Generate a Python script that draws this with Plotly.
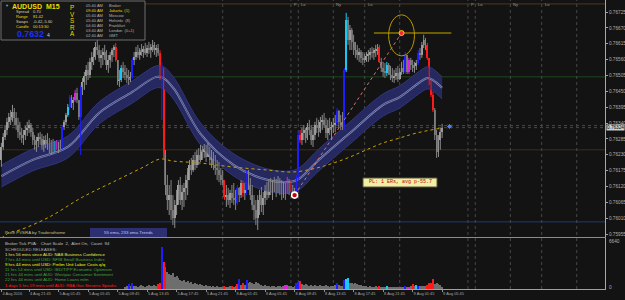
import plotly.graph_objects as go

# ---------------- data ----------------
first_open = 0.76212
bar_high = [
0.76271,0.76305,0.76333,0.76358,0.76375,0.76385,0.76403,0.76392,0.76378,0.76358,
0.76344,0.76323,0.76316,0.76330,0.76344,0.76351,0.76340,0.76323,0.76298,0.76292,
0.76305,0.76309,0.76302,0.76295,0.76298,0.76305,0.76288,0.76281,0.76285,0.76278,
0.76281,0.76274,0.76281,0.76333,0.76351,0.76375,0.76406,0.76437,0.76437,0.76430,
0.76455,0.76462,0.76420,0.76472,0.76496,0.76517,0.76541,0.76552,0.76566,0.76586,
0.76600,0.76621,0.76635,0.76611,0.76593,0.76600,0.76611,0.76593,0.76576,0.76586,
0.76600,0.76611,0.76618,0.76552,0.76524,0.76541,0.76552,0.76541,0.76531,0.76524,
0.76517,0.76566,0.76586,0.76604,0.76611,0.76600,0.76614,0.76607,0.76618,0.76611,
0.76621,0.76614,0.76628,0.76621,0.76611,0.76614,0.76593,0.76552,0.76531,0.76247,
0.76160,0.76125,0.76142,0.76090,0.76073,0.76108,0.76142,0.76153,0.76125,0.76132,
0.76160,0.76184,0.76212,0.76219,0.76229,0.76240,0.76247,0.76253,0.76264,0.76260,
0.76267,0.76264,0.76271,0.76257,0.76247,0.76240,0.76229,0.76212,0.76205,0.76184,
0.76177,0.76142,0.76125,0.76115,0.76108,0.76125,0.76132,0.76108,0.76125,0.76118,
0.76142,0.76139,0.76132,0.76177,0.76177,0.76149,0.76125,0.76090,0.76073,0.76090,
0.76108,0.76118,0.76101,0.76125,0.76135,0.76142,0.76149,0.76142,0.76153,0.76146,
0.76156,0.76149,0.76142,0.76135,0.76132,0.76153,0.76142,0.76139,0.76125,0.76115,
0.76160,0.76309,0.76316,0.76323,0.76333,0.76323,0.76340,0.76351,0.76333,0.76326,
0.76344,0.76358,0.76351,0.76361,0.76368,0.76375,0.76358,0.76351,0.76358,0.76344,
0.76358,0.76368,0.76392,0.76385,0.76368,0.76378,0.76531,0.76722,0.76708,0.76680,
0.76670,0.76646,0.76621,0.76611,0.76600,0.76593,0.76586,0.76580,0.76586,0.76593,
0.76600,0.76604,0.76600,0.76611,0.76614,0.76611,0.76566,0.76552,0.76548,0.76552,
0.76548,0.76538,0.76531,0.76524,0.76531,0.76538,0.76531,0.76552,0.76559,0.76586,
0.76566,0.76566,0.76566,0.76559,0.76552,0.76559,0.76593,0.76600,0.76621,0.76646,
0.76635,0.76618,0.76566,0.76489,0.76448,0.76392,0.76316,0.76298,0.76323,0.76337]
bar_low = [
0.76188,0.76247,0.76281,0.76298,0.76323,0.76333,0.76344,0.76333,0.76316,0.76288,
0.76281,0.76271,0.76264,0.76281,0.76295,0.76305,0.76292,0.76264,0.76247,0.76240,
0.76257,0.76264,0.76247,0.76240,0.76253,0.76247,0.76236,0.76229,0.76233,0.76240,
0.76247,0.76236,0.76247,0.76250,0.76316,0.76333,0.76361,0.76385,0.76392,0.76385,
0.76413,0.76409,0.76351,0.76229,0.76437,0.76455,0.76472,0.76489,0.76496,0.76524,
0.76541,0.76559,0.76576,0.76552,0.76531,0.76541,0.76559,0.76524,0.76514,0.76531,
0.76552,0.76569,0.76552,0.76472,0.76465,0.76482,0.76496,0.76489,0.76479,0.76472,
0.76482,0.76493,0.76541,0.76559,0.76566,0.76559,0.76573,0.76566,0.76576,0.76569,
0.76580,0.76566,0.76586,0.76576,0.76569,0.76573,0.76489,0.76351,0.76212,0.76090,
0.76038,0.76021,0.76004,0.75986,0.75976,0.76021,0.76056,0.76056,0.76038,0.76049,
0.76073,0.76090,0.76142,0.76160,0.76170,0.76177,0.76184,0.76194,0.76205,0.76212,
0.76219,0.76205,0.76222,0.76194,0.76184,0.76177,0.76160,0.76142,0.76135,0.76125,
0.76125,0.76073,0.76049,0.76056,0.76045,0.76063,0.76056,0.76038,0.76056,0.76066,
0.76080,0.76083,0.76073,0.76090,0.76108,0.76073,0.76038,0.76004,0.75986,0.75969,
0.76021,0.76031,0.76021,0.76056,0.76073,0.76080,0.76090,0.76073,0.76101,0.76083,
0.76097,0.76090,0.76073,0.76080,0.76073,0.76094,0.76090,0.76101,0.76083,0.76080,
0.76087,0.76142,0.76271,0.76264,0.76281,0.76271,0.76281,0.76298,0.76264,0.76257,
0.76281,0.76305,0.76292,0.76305,0.76316,0.76323,0.76288,0.76281,0.76298,0.76281,
0.76305,0.76309,0.76333,0.76323,0.76316,0.76316,0.76316,0.76517,0.76611,0.76593,
0.76593,0.76576,0.76566,0.76559,0.76552,0.76548,0.76541,0.76548,0.76552,0.76552,
0.76559,0.76566,0.76559,0.76569,0.76576,0.76548,0.76517,0.76500,0.76496,0.76503,
0.76507,0.76489,0.76482,0.76479,0.76489,0.76482,0.76489,0.76507,0.76510,0.76510,
0.76510,0.76510,0.76524,0.76517,0.76514,0.76524,0.76541,0.76559,0.76566,0.76600,
0.76593,0.76559,0.76472,0.76430,0.76378,0.76281,0.76219,0.76222,0.76247,0.76288]
bar_close = [
0.76257,0.76292,0.76316,0.76344,0.76361,0.76351,0.76378,0.76358,0.76333,0.76309,
0.76298,0.76288,0.76298,0.76316,0.76323,0.76333,0.76309,0.76281,0.76264,0.76278,
0.76292,0.76285,0.76260,0.76281,0.76271,0.76257,0.76250,0.76264,0.76247,0.76271,
0.76253,0.76260,0.76257,0.76326,0.76344,0.76368,0.76396,0.76430,0.76409,0.76420,
0.76444,0.76420,0.76361,0.76465,0.76482,0.76503,0.76524,0.76507,0.76552,0.76569,
0.76583,0.76604,0.76593,0.76566,0.76576,0.76586,0.76569,0.76541,0.76559,0.76576,
0.76593,0.76604,0.76559,0.76489,0.76489,0.76531,0.76517,0.76507,0.76496,0.76489,
0.76500,0.76559,0.76569,0.76586,0.76576,0.76593,0.76586,0.76597,0.76583,0.76600,
0.76593,0.76604,0.76611,0.76593,0.76600,0.76583,0.76496,0.76524,0.76236,0.76125,
0.76073,0.76090,0.76038,0.76011,0.76056,0.76090,0.76125,0.76073,0.76101,0.76115,
0.76142,0.76170,0.76194,0.76177,0.76212,0.76194,0.76229,0.76212,0.76247,0.76240,
0.76253,0.76222,0.76247,0.76212,0.76229,0.76194,0.76184,0.76177,0.76160,0.76142,
0.76132,0.76083,0.76090,0.76073,0.76097,0.76080,0.76073,0.76063,0.76115,0.76090,
0.76132,0.76097,0.76108,0.76170,0.76125,0.76090,0.76056,0.76038,0.76011,0.76073,
0.76090,0.76056,0.76080,0.76108,0.76090,0.76125,0.76108,0.76132,0.76115,0.76108,
0.76135,0.76118,0.76101,0.76125,0.76101,0.76146,0.76125,0.76108,0.76097,0.76101,
0.76149,0.76298,0.76281,0.76305,0.76316,0.76288,0.76326,0.76316,0.76281,0.76298,
0.76333,0.76323,0.76309,0.76344,0.76351,0.76333,0.76305,0.76323,0.76316,0.76326,
0.76333,0.76340,0.76382,0.76344,0.76333,0.76326,0.76524,0.76698,0.76628,0.76663,
0.76621,0.76600,0.76593,0.76576,0.76586,0.76566,0.76559,0.76566,0.76573,0.76576,
0.76586,0.76583,0.76593,0.76597,0.76604,0.76552,0.76531,0.76517,0.76514,0.76541,
0.76524,0.76507,0.76496,0.76503,0.76514,0.76493,0.76517,0.76531,0.76517,0.76576,
0.76517,0.76559,0.76541,0.76531,0.76538,0.76548,0.76583,0.76576,0.76611,0.76628,
0.76611,0.76566,0.76479,0.76437,0.76385,0.76298,0.76240,0.76281,0.76309,0.76324]

candle_blue = [33, 37, 43, 71, 87, 128, 133, 160, 161, 182, 186, 219, 226]
candle_red = [62, 86, 88, 121, 131, 157, 162, 205, 231, 232, 233, 234]
candle_cyan = [29, 36, 65, 187, 209]
candle_magenta = [30, 40, 155, 221]

vol_start = 67
volume = [
262,391,655,388,784,402,377,258,395,521,386,270,399,530,381,404,518,389,
648,779,5470,3515,2862,2213,1948,1824,2081,1559,1693,1428,1172,1041,1168,
912,1037,781,915,652,778,649,524,655,521,392,527,389,401,262,385,268,397,259,271,
266,393,258,263,398,387,271,394,653,1302,519,782,527,1167,778,913,784,651,908,776,
648,523,392,527,388,396,264,391,398,259,386,394,268,393,522,528,387,392,261,389,
781,914,1043,654,522,649,526,391,519,388,524,393,386,527,392,398,521,387,263,391,
389,524,785,521,392,397,1171,1298,1432,779,783,651,778,652,523,519,392,388,394,261,
392,263,258,394,267,396,262,259,266,397,261,264,258,263,138,262,267,259,263,395,
261,268,393,651,391,524,397,389,394,391,396,522,779,784,1301,648,781,652,523,264]
vol_blue = [69, 71, 87, 129, 133, 160, 161, 182, 186, 219, 226]
vol_red = [85, 86, 88, 89, 121, 125, 128, 131, 162, 205, 223, 231, 232, 233, 234]
vol_cyan = [187, 188, 209, 225]
vol_magenta = [154, 155, 221]
vol_max_label = 6640

ema55_idx = [0, 17, 36, 53, 71, 84, 88, 94, 108, 126, 144, 157, 162, 171, 189, 207, 216, 227, 231, 234, 239]
ema55_mid = [0.76156, 0.76212, 0.76257, 0.76375, 0.76448, 0.76500, 0.76496, 0.76455, 0.76302, 0.76194, 0.76143,
             0.76136, 0.76149, 0.76205, 0.76305, 0.76403, 0.76430, 0.76482, 0.76496, 0.76489, 0.76462]
ema55_upper = [0.76194, 0.76250, 0.76295, 0.76413, 0.76486, 0.76538, 0.76535, 0.76493, 0.76340, 0.76233, 0.76181,
               0.76174, 0.76187, 0.76243, 0.76344, 0.76441, 0.76469, 0.76521, 0.76535, 0.76528, 0.76500]
ema55_lower = [0.76118, 0.76174, 0.76219, 0.76337, 0.76409, 0.76462, 0.76458, 0.76417, 0.76264, 0.76156, 0.76104,
               0.76097, 0.76111, 0.76167, 0.76267, 0.76364, 0.76392, 0.76444, 0.76458, 0.76451, 0.76423]

ema233_idx = [0, 4, 10, 26, 44, 63, 77, 86, 93, 108, 126, 144, 158, 171, 180, 189, 198, 207, 216, 225, 239]
ema233_val = [0.75940, 0.75959, 0.75969, 0.76014, 0.76083, 0.76143, 0.76187, 0.76215, 0.76208, 0.76201, 0.76187,
              0.76177, 0.76170, 0.76184, 0.76201, 0.76222, 0.76247, 0.76271, 0.76288, 0.76305, 0.76323]

tick_idx = [0, 15, 31, 47, 63, 79, 95, 111, 127, 143, 159, 175, 191, 207, 223, 239]
tick_text = ["4 Aug 2016", "4 Aug 21:45", "5 Aug 01:45", "5 Aug 05:45", "5 Aug 09:45", "5 Aug 13:45",
             "5 Aug 17:45", "5 Aug 21:45", "8 Aug 01:45", "8 Aug 05:45", "8 Aug 09:45", "8 Aug 13:45",
             "8 Aug 17:45", "8 Aug 21:45", "9 Aug 01:45", "9 Aug 05:45"]
price_ticks = [0.76725, 0.76670, 0.76615, 0.76560, 0.76505, 0.76450, 0.76395, 0.76340,
               0.76285, 0.76230, 0.76175, 0.76120, 0.76065, 0.76010, 0.75955]

bid_price = 0.76324
ask_price = 0.76331
level_prices = [0.76753, 0.76500, 0.76247, 0.75997]
level_colors = ['#4a3a1c', '#1d4a1d', '#3e2e1a', '#1f3a72']

day_sep_idx = [120, 216, 312]
session_idx = [157, 161, 180, 197, 253, 257, 276, 293]
session_lbl = ["P", "Lo", "Ny", "Lo", "P", "Lo", "Ny", "Lo"]

entry_idx, entry_price = 159, 0.76090
target_idx, target_price = 217, 0.76652
target_line_idx = [202, 244]
ellipse_center = (217, 0.76644)
ellipse_half = (7.0, 0.00071)
next_bar_idx, next_bar_price = 243, 0.76328

# ---------------- figure ----------------
W, H = 625, 300
def px(x): return x / W
def py(y): return 1 - y / H

BG = '#131313'
x_lo, x_hi = -0.76, 327.33
p_hi, p_lo = 0.7676662, 0.7594459

fig = go.Figure()

# EMA 55 band
fig.add_trace(go.Scatter(x=ema55_idx, y=ema55_upper, mode='lines',
                         line=dict(color='#30357e', width=1, shape='spline'), hoverinfo='skip'))
fig.add_trace(go.Scatter(x=ema55_idx, y=ema55_lower, mode='lines', fill='tonexty', fillcolor='#252960',
                         line=dict(color='#30357e', width=1, shape='spline'), hoverinfo='skip'))
fig.add_trace(go.Scatter(x=ema55_idx, y=ema55_mid, mode='lines',
                         line=dict(color='#8a8fbf', width=2.0, shape='spline'), hoverinfo='skip'))
fig.add_trace(go.Scatter(x=ema55_idx, y=ema55_mid, mode='lines',
                         line=dict(color='#252960', width=0.7, shape='spline'), hoverinfo='skip'))
# EMA 233
fig.add_trace(go.Scatter(x=ema233_idx, y=ema233_val, mode='lines',
                         line=dict(color='#c8a000', width=1, dash='dot', shape='spline'), hoverinfo='skip'))

# candles
n = len(bar_close)
bar_open = [first_open] + bar_close[:-1]
special = {}
for i in candle_blue: special[i] = ('#1e1eff', '#1e1eff')
for i in candle_red: special[i] = ('#ff1a1a', '#ff1a1a')
for i in candle_cyan: special[i] = ('#1ac8f0', '#1ac8f0')
for i in candle_magenta: special[i] = ('#e020e0', '#e020e0')
UP = ('#a6a6a6', '#8e8e8e')
DN = ('#6a6a6a', '#848484')
groups = {}
for i in range(n):
    if i in special:
        key = special[i]
    elif bar_close[i] >= bar_open[i]:
        key = UP
    else:
        key = DN
    groups.setdefault(key, []).append(i)

order = sorted(groups.keys(), key=lambda k: 0 if k in (UP, DN) else 1)
for key in order:
    idx = groups[key]
    body_col, wick_col = key
    wx, wy = [], []
    for i in idx:
        lo = min(bar_low[i], bar_open[i], bar_close[i])
        hi = max(bar_high[i], bar_open[i], bar_close[i])
        wx += [i, i, None]
        wy += [lo, hi, None]
    fig.add_trace(go.Scatter(x=wx, y=wy, mode='lines', line=dict(color=wick_col, width=1), hoverinfo='skip'))
    fig.add_trace(go.Bar(x=idx,
                         y=[max(abs(bar_close[i] - bar_open[i]), 0.000015) for i in idx],
                         base=[min(bar_close[i], bar_open[i]) for i in idx],
                         width=0.6, marker=dict(color=body_col, line=dict(width=0)), hoverinfo='skip'))

# volume
vol_idx = list(range(vol_start, vol_start + len(volume)))
vcol = {}
for i in vol_blue: vcol[i] = '#1e1eff'
for i in vol_red: vcol[i] = '#ff1a1a'
for i in vol_cyan: vcol[i] = '#1ac8f0'
for i in vol_magenta: vcol[i] = '#e020e0'
vgroups = {}
for i, v in zip(vol_idx, volume):
    c = vcol.get(i, '#6e6e6e')
    vgroups.setdefault(c, ([], []))
    vgroups[c][0].append(i)
    vgroups[c][1].append(v)
for c, (xs, ys) in vgroups.items():
    fig.add_trace(go.Bar(x=xs, y=ys, width=0.62, marker=dict(color=c, line=dict(width=0)),
                         xaxis='x2', yaxis='y2', hoverinfo='skip'))

# trade markers
fig.add_trace(go.Scatter(x=[entry_idx, target_idx], y=[entry_price, target_price], mode='lines',
                         line=dict(color='#d87070', width=1, dash='dot'), hoverinfo='skip'))
fig.add_trace(go.Scatter(x=target_line_idx, y=[target_price, target_price], mode='lines',
                         line=dict(color='#8c7600', width=1.5), hoverinfo='skip'))
fig.add_trace(go.Scatter(x=[entry_idx], y=[entry_price], mode='markers',
                         marker=dict(size=6, color='#d00000', line=dict(color='#ffffff', width=1.6)), hoverinfo='skip'))
fig.add_trace(go.Scatter(x=[target_idx], y=[target_price], mode='markers',
                         marker=dict(size=5, color='#ff2040', line=dict(color='#f0d000', width=1)), hoverinfo='skip'))
fig.add_trace(go.Scatter(x=[next_bar_idx], y=[next_bar_price], mode='markers',
                         marker=dict(size=4, symbol='asterisk-open', color='#4f7fff', line=dict(color='#4f7fff', width=1)),
                         hoverinfo='skip'))

shapes = []
for p, c in zip(level_prices, level_colors):
    shapes.append(dict(type='line', xref='paper', yref='y', x0=0, x1=px(605), y0=p, y1=p,
                       line=dict(color=c, width=1), layer='below'))
for p in (bid_price, ask_price):
    shapes.append(dict(type='line', xref='paper', yref='y', x0=0, x1=px(605), y0=p, y1=p,
                       line=dict(color='#555555', width=0.8, dash='dot'), layer='below'))
for i in day_sep_idx + session_idx:
    shapes.append(dict(type='line', xref='x', yref='paper', x0=i, x1=i, y0=py(289), y1=1,
                       line=dict(color='#484848', width=1, dash='dot'), layer='below'))
cx, cy = ellipse_center
hx, hy = ellipse_half
shapes.append(dict(type='circle', xref='x', yref='y', x0=cx - hx, x1=cx + hx, y0=cy - hy, y1=cy + hy,
                   line=dict(color='#b89a00', width=1)))
shapes.append(dict(type='rect', xref='paper', yref='paper', x0=px(1), x1=px(145), y0=py(40), y1=py(1),
                   fillcolor='#161616', line=dict(color='#6e6e6e', width=1), layer='above'))
shapes.append(dict(type='rect', xref='paper', yref='paper', x0=px(90), x1=px(167), y0=py(237), y1=py(228),
                   fillcolor='#2c3072', line=dict(width=0), layer='above'))
shapes.append(dict(type='rect', xref='paper', yref='paper', x0=px(363), x1=px(437), y0=py(187), y1=py(178),
                   fillcolor='#f2eea6', line=dict(color='#55553a', width=1), layer='above'))

F = 'Liberation Sans'
ann = []
def text(x, y, s, color, size, anchor='left', bold=False, family=F, **kw):
    if bold:
        s = '<b>' + s + '</b>'
    d = dict(x=px(x), y=py(y), xref='paper', yref='paper', text=s.replace('  ', '\u00a0 '),
             showarrow=False, xanchor=anchor, yanchor='middle',
             font=dict(color=color, size=size, family=family))
    d.update(kw)
    ann.append(d)

text(3, 5, '▼', '#9a9a9a', 4)
text(10, 7, 'AUDUSD', '#f0dc00', 7, bold=True)
text(44, 7, 'M15', '#f0dc00', 7, bold=True)
rows = [('Spread', '0.70', '#d6d2b0'), ('Range', '81.42', '#f0dc00'),
        ('Swaps', '-0.42,-5.60', '#d6d2b0'), ('Candle', '00:13:30', '#f0dc00')]
for k, (a, b, c) in enumerate(rows):
    text(14, 11.5 + 5 * k, a, c, 4)
    text(31, 11.5 + 5 * k, b, c, 4)
text(15, 34, '0.7632', '#1a30ff', 8.8, bold=True)
text(45, 35, '4', '#d0d0d0', 5)
for k, ch in enumerate('PVSRA'):
    text(72, 7.5 + 6.6 * k, ch, '#f0d800', 6.3, anchor='center')
times = [('05:40 AM', 'Broker', '#b4b4b4'), ('09:40 AM', 'Jakarta  (1)', '#f0dc00'),
         ('05:40 AM', 'Moscow', '#b4b4b4'), ('05:40 AM', 'Helsinki  (8)', '#b4b4b4'),
         ('04:40 AM', 'Frankfurt', '#b4b4b4'), ('03:40 AM', 'London  (0+1)', '#b4b4b4'),
         ('02:40 AM', 'GMT', '#b4b4b4')]
for k, (t, c_name, col) in enumerate(times):
    text(84, 5 + 5.1 * k, t, col, 4)
    text(107, 5 + 5.1 * k, c_name, col, 4)

text(3, 232.5, 'Price PVSRA by Traderathome', '#c8c080', 4.4)
text(128.5, 232.5, '55 ema, 233 ema Trends', '#c4c4f4', 4.4, anchor='center')
text(400, 182.5, 'PL: 1 ERs, avg p-55.7', '#c00000', 5, anchor='center', family='Liberation Mono')
panel = [('Broker Tick PVA:   Chart Scale  2,  Alert On,  Count  94', '#c0c0c0', 243),
         ('SCHEDULED RELEASES:', '#a8a8a8', 249),
         ('1 hrs 56 mins since AUD: NAB Business Confidence', '#e8e850', 254.5),
         ('7 hrs 44 mins until USD: NFIB Small Business Index', '#3fa63f', 259.5),
         ('9 hrs 44 mins until USD: Prelim Unit Labor Costs q/q', '#f8f800', 264.5),
         ('11 hrs 14 mins until USD: IBD/TIPP Economic Optimism', '#3fa63f', 269.5),
         ('21 hrs 44 mins until AUD: Westpac Consumer Sentiment', '#3fa63f', 274.5),
         ('22 hrs 44 mins until AUD: Home Loans m/m', '#3fa63f', 279.5),
         ('1 days 5 hrs 19 mins until AUD: RBA Gov Stevens Speaks', '#ff2020', 285.5)]
for s, c, y in panel:
    text(3, y, s, c, 4.3)

for i, s in zip(session_idx, session_lbl):
    ann.append(dict(x=i + 0.6, y=py(4.5), xref='x', yref='paper', text=s, showarrow=False,
                    xanchor='left', yanchor='middle', font=dict(color='#9a9a9a', size=4, family=F)))
ann.append(dict(x=px(606), y=bid_price, xref='paper', yref='y', text='0.76324', showarrow=False,
                xanchor='left', yanchor='middle', bgcolor='#cfcfcf', borderpad=0,
                font=dict(color='#000000', size=4.7, family=F)))
ann.append(dict(x=px(607), y=py(241), xref='paper', yref='paper', text=str(vol_max_label), showarrow=False,
                xanchor='left', yanchor='middle', font=dict(color='#b0b0b0', size=4.7, family=F)))
ann.append(dict(x=px(607), y=py(287), xref='paper', yref='paper', text='0', showarrow=False,
                xanchor='left', yanchor='middle', font=dict(color='#b0b0b0', size=4.7, family=F)))

fig.update_layout(
    width=W, height=H, margin=dict(l=0, r=0, t=0, b=0),
    paper_bgcolor=BG, plot_bgcolor=BG, showlegend=False, barmode='overlay', bargap=0,
    hovermode=False, shapes=shapes, annotations=ann,
    xaxis=dict(domain=[0, px(605)], range=[x_lo, x_hi], anchor='y', showticklabels=False, ticks='',
               showgrid=False, zeroline=False, showline=True, linecolor='#8c8c8c', linewidth=1),
    xaxis2=dict(domain=[0, px(605)], range=[x_lo, x_hi], anchor='y2', tickvals=tick_idx, ticktext=tick_text,
                ticks='outside', ticklen=2, tickcolor='#909090', ticklabelposition='outside right',
                tickangle=0, tickfont=dict(size=3.9, color='#a8a8a8', family=F),
                showgrid=False, zeroline=False, showline=True, linecolor='#a0a0a0', linewidth=1),
    yaxis=dict(domain=[63 / 300, 1], range=[p_lo, p_hi], anchor='x', side='right',
               tickvals=price_ticks, ticktext=[f'{v:.5f}' for v in price_ticks],
               ticks='outside', ticklen=2, tickcolor='#a0a0a0',
               tickfont=dict(size=4.7, color='#b0b0b0', family=F),
               showgrid=False, zeroline=False, showline=True, linecolor='#a8a8a8', linewidth=1),
    yaxis2=dict(domain=[11 / 300, 62 / 300], range=[0, vol_max_label], anchor='x2', side='right',
                showticklabels=False, ticks='', showgrid=False, zeroline=False,
                showline=True, linecolor='#a8a8a8', linewidth=1),
)

fig.write_html("out.html")
